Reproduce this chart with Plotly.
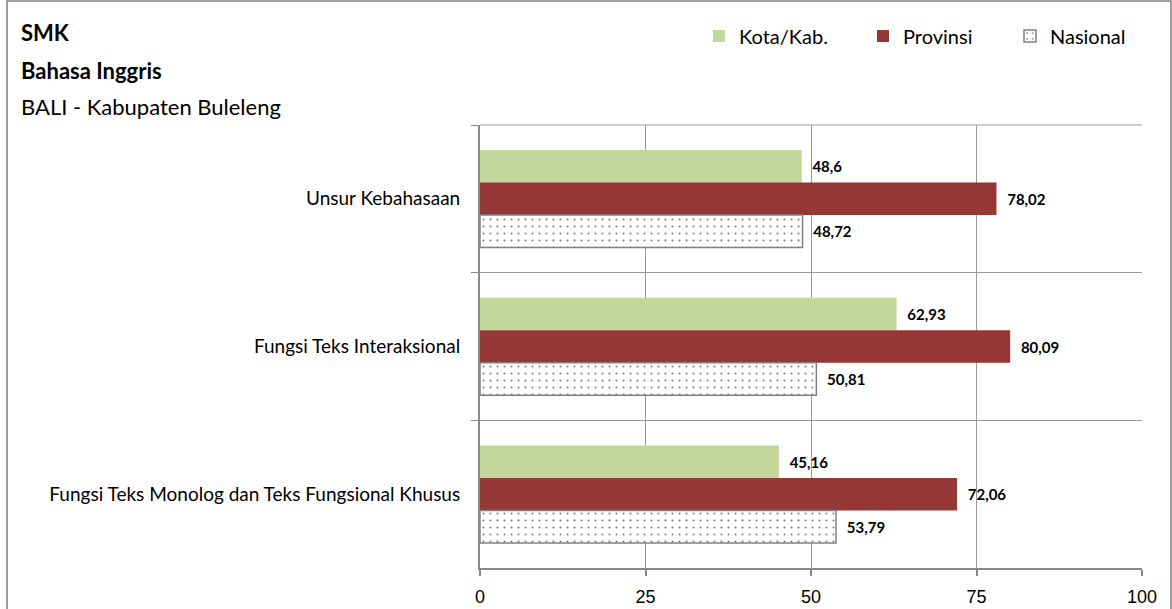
import plotly.graph_objects as go

categories = ["Unsur Kebahasaan", "Fungsi Teks Interaksional",
              "Fungsi Teks Monolog dan Teks Fungsional Khusus"]
kota = [48.6, 62.93, 45.16]
provinsi = [78.02, 80.09, 72.06]
nasional = [48.72, 50.81, 53.79]
series_names = ["Kota/Kab.", "Provinsi", "Nasional"]
x_ticks = [0, 25, 50, 75, 100]
title_lines = ["SMK", "Bahasa Inggris", "BALI - Kabupaten Buleleng"]

FONT = "Lato"
W, H = 1172, 609
L, R, T, B = 480, 30, 125, 41
PW, PH = W - L - R, H - T - B


def px_to_paper_x(px):
    return (px - L) / PW


def px_to_paper_y(py):
    return (H - B - py) / PH


def lbl(vals):
    return ["\u00a0\u00a0" + f"<b>{v}</b>".replace(".", ",") for v in vals]


LABEL_FONT = dict(family=FONT, size=15, color="black")

fig = go.Figure()
fig.add_trace(go.Bar(
    y=categories, x=kota, name=series_names[0], orientation="h",
    marker=dict(color="#C4D79B", line=dict(width=0)),
    text=lbl(kota), textposition="outside", cliponaxis=False,
    textfont=LABEL_FONT, legend="legend",
))
fig.add_trace(go.Bar(
    y=categories, x=provinsi, name=series_names[1], orientation="h",
    marker=dict(color="#953735", line=dict(width=0)),
    text=lbl(provinsi), textposition="outside", cliponaxis=False,
    textfont=LABEL_FONT, legend="legend2",
))
fig.add_trace(go.Bar(
    y=categories, x=nasional, name=series_names[2], orientation="h",
    marker=dict(color="white", line=dict(width=1.5, color="#808080"),
                pattern=dict(shape=".", fgcolor="#000000", bgcolor="white",
                             size=7, solidity=0.07)),
    text=lbl(nasional), textposition="outside", cliponaxis=False,
    textfont=LABEL_FONT, legend="legend3",
))

annotations = []
for i, (txt, py) in enumerate(zip(title_lines, [33, 70, 107])):
    annotations.append(dict(
        xref="paper", yref="paper", x=px_to_paper_x(19), y=px_to_paper_y(py),
        xanchor="left", yanchor="middle", showarrow=False,
        text=f"<b>{txt}</b>" if i < 2 else txt,
        font=dict(family=FONT, size=22, color="black"),
    ))


def legend_at(px):
    return dict(orientation="h", x=px_to_paper_x(px), y=px_to_paper_y(36),
                xanchor="left", yanchor="middle",
                font=dict(family=FONT, size=20, color="black"),
                bgcolor="rgba(0,0,0,0)", borderwidth=0, itemwidth=30)


fig.update_layout(
    width=W, height=H,
    margin=dict(l=L, r=R, t=T, b=B, autoexpand=False),
    paper_bgcolor="white", plot_bgcolor="white",
    barmode="group", bargap=0.34, bargroupgap=0,
    font=dict(family=FONT, color="black"),
    showlegend=True,
    legend=legend_at(699),
    legend2=legend_at(863),
    legend3=legend_at(1010),
    annotations=annotations,
    shapes=[dict(type="rect", xref="paper", yref="paper",
                 x0=px_to_paper_x(7), x1=px_to_paper_x(1171),
                 y0=px_to_paper_y(620), y1=px_to_paper_y(1),
                 line=dict(color="#808080", width=1.5), layer="below")],
)

fig.update_xaxes(
    range=[0, 100], tickvals=x_ticks, ticktext=[str(t) for t in x_ticks],
    showgrid=True, gridcolor="#999999", gridwidth=1,
    showline=True, linecolor="#888888", linewidth=2, mirror=False,
    ticks="outside", ticklen=6, tickcolor="#888888", tickwidth=1.5,
    tickfont=dict(family="Liberation Sans", size=18, color="black"),
    ticklabelstandoff=5, automargin=False,
    zeroline=False, fixedrange=True,
)
fig.update_yaxes(
    type="category", categoryorder="array", categoryarray=categories,
    autorange="reversed",
    tickson="boundaries", ticks="outside", ticklen=7, tickcolor="#888888",
    showgrid=True, gridcolor="#999999", gridwidth=1,
    showline=True, linecolor="#888888", linewidth=2,
    tickfont=dict(family=FONT, size=19, color="black"),
    ticklabelstandoff=14, automargin=False, fixedrange=True,
)
fig.add_shape(type="line", xref="paper", yref="paper", x0=0, x1=1, y0=1, y1=1,
              line=dict(color="#999999", width=1))

fig.write_html("out.html", config={"displayModeBar": False},
               post_script="document.body.style.margin='0';")
